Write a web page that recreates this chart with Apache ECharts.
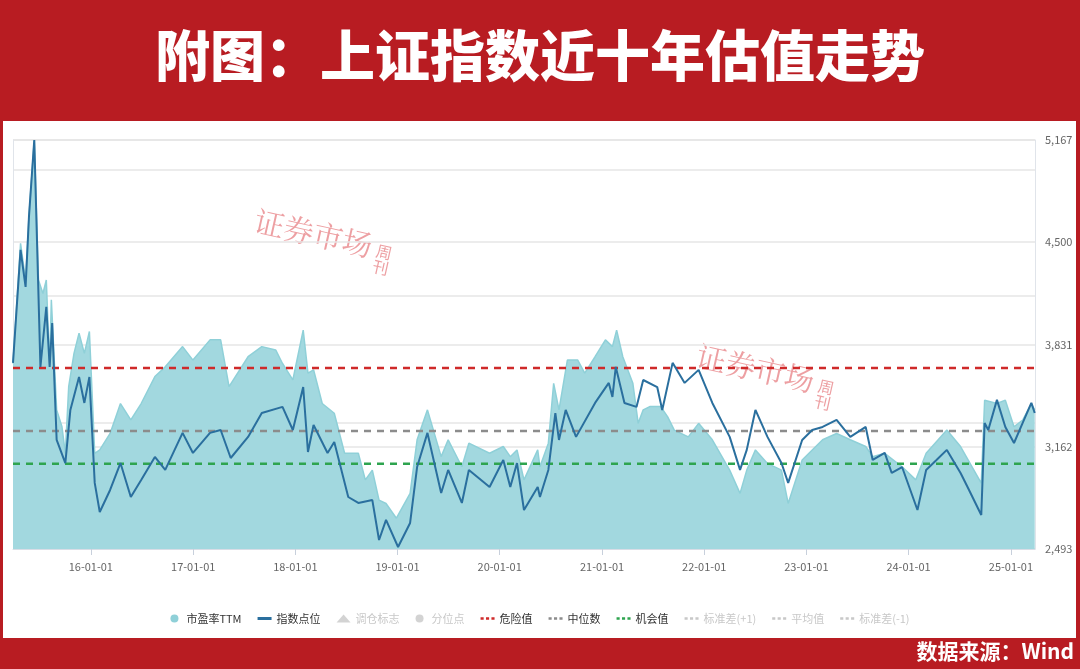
<!DOCTYPE html>
<html><head><meta charset="utf-8">
<script src="https://cdn.jsdelivr.net/npm/echarts@6/dist/echarts.min.js"></script>
<style>html,body{margin:0;padding:0;background:#fff}#c{width:1080px;height:669px}</style>
</head><body><div id="c"></div>
<script>
const titleText = '附图：上证指数近十年估值走势';
const sourceText = '数据来源：Wind';
const yearTicks = ['2016-01-01','2017-01-01','2018-01-01','2019-01-01','2020-01-01','2021-01-01','2022-01-01','2023-01-01','2024-01-01','2025-01-01'];
const indexTicks = [2493, 3162, 3831, 4500, 5167];
const peDates = ['2015-03-29','2015-04-25','2015-05-13','2015-05-25','2015-06-13','2015-06-28','2015-07-14','2015-07-26','2015-08-07','2015-08-13','2015-09-01','2015-09-20','2015-10-02','2015-10-14','2015-11-02','2015-11-20','2015-12-09','2015-12-27','2016-01-15','2016-02-02','2016-03-10','2016-04-16','2016-05-23','2016-06-29','2016-08-17','2016-09-23','2016-11-24','2016-12-31','2017-03-02','2017-04-09','2017-05-09','2017-07-16','2017-09-03','2017-10-23','2017-11-16','2017-12-23','2018-01-29','2018-02-15','2018-03-07','2018-04-07','2018-05-20','2018-06-26','2018-08-14','2018-09-08','2018-10-03','2018-10-27','2018-11-21','2018-12-28','2019-02-15','2019-03-12','2019-04-18','2019-06-06','2019-07-01','2019-08-19','2019-09-13','2019-11-26','2020-01-14','2020-02-08','2020-03-03','2020-03-28','2020-05-16',
'2020-05-24','2020-06-23','2020-07-12','2020-07-31','2020-08-30','2020-10-06','2020-10-31','2020-12-07','2021-01-13','2021-02-07','2021-02-22','2021-03-16','2021-04-21','2021-05-10','2021-05-28','2021-06-22','2021-07-29','2021-08-23','2021-09-16','2021-11-05','2021-12-12','2022-01-30','2022-04-02','2022-05-09','2022-06-02','2022-07-03','2022-08-15','2022-10-04','2022-10-28','2022-12-17','2023-01-22','2023-02-28','2023-04-19','2023-06-07','2023-08-01','2023-08-26','2023-10-08','2023-12-09','2024-01-27','2024-03-04','2024-05-17','2024-07-05','2024-09-17','2024-09-29','2024-11-12','2024-12-12','2025-01-12','2025-02-12','2025-03-15','2025-03-27'];
const peValues = [13.40,16.25,15.38,16.88,18.70,15.38,15.06,15.38,13.32,14.91,12.30,11.90,11.27,12.85,13.64,14.12,13.64,14.16,11.27,11.35,11.74,12.45,12.06,12.45,13.09,13.32,13.80,13.48,13.96,13.96,12.85,13.56,13.80,13.72,13.40,13.01,14.19,13.17,13.25,12.45,12.22,11.27,11.27,10.64,10.87,10.16,10.08,9.73,10.32,11.59,12.30,11.19,11.59,10.95,11.51,11.27,11.43,11.19,11.35,10.64,11.35,
10.95,11.51,12.93,12.30,13.48,13.48,13.17,13.56,13.96,13.80,14.19,13.56,12.93,11.98,12.30,12.38,12.38,12.14,11.82,11.66,11.98,11.59,10.87,10.32,10.87,11.35,11.03,10.87,10.08,11.11,11.35,11.59,11.74,11.59,11.43,11.19,11.27,10.95,10.64,11.27,11.82,11.43,10.56,12.53,12.45,12.53,11.90,12.06,12.45,12.30];
const idxDates = ['2015-03-29','2015-04-25','2015-05-13','2015-05-25','2015-06-13','2015-07-05','2015-07-26','2015-08-07','2015-08-16','2015-09-01','2015-10-02','2015-10-20','2015-11-20','2015-12-09','2015-12-27','2016-01-15','2016-02-02','2016-03-10','2016-04-16','2016-05-23','2016-06-29','2016-08-17','2016-09-23','2016-11-24','2016-12-31','2017-03-02','2017-04-09','2017-05-15','2017-07-16','2017-09-03','2017-11-16','2017-12-23','2018-01-29','2018-02-15','2018-03-07','2018-04-26','2018-05-20','2018-07-09','2018-08-14','2018-10-03','2018-10-27','2018-11-21','2019-01-03','2019-02-15','2019-03-12','2019-04-18','2019-06-06','2019-07-01','2019-08-19','2019-09-13','2019-11-26','2020-01-14','2020-02-08','2020-03-03','2020-03-28','2020-05-16',
'2020-05-24','2020-06-23','2020-07-18','2020-07-31','2020-08-24','2020-09-30','2020-12-07','2021-01-25','2021-02-07','2021-02-19','2021-03-22','2021-05-04','2021-05-28','2021-07-17','2021-08-04','2021-09-10','2021-10-23','2021-12-12','2022-01-30','2022-04-02','2022-05-09','2022-06-02','2022-07-03','2022-08-15','2022-10-04','2022-10-28','2022-12-17','2023-01-22','2023-02-28','2023-04-19','2023-06-07','2023-08-01','2023-08-26','2023-10-08','2023-11-02','2023-12-09','2024-02-02','2024-03-04','2024-04-10','2024-05-17','2024-07-05','2024-07-30','2024-09-17','2024-09-29','2024-10-12','2024-11-12','2024-12-12','2025-01-12','2025-02-12','2025-03-15','2025-03-27'];
const idxValues = [3710,4449,4207,4664,5167,3683,4076,3683,3971,3206,3055,3402,3618,3448,3618,2925,2735,2879,3055,2833,2944,3095,3010,3252,3121,3252,3271,3088,3226,3382,3422,3271,3552,3127,3304,3121,3193,2833,2794,2813,2552,2683,2506,2663,3029,3252,2859,3010,2794,3010,2898,3075,2898,3055,2748,2898,
2833,3010,3382,3206,3402,3226,3448,3579,3487,3683,3448,3422,3598,3552,3402,3710,3579,3664,3448,3226,3010,3141,3402,3226,3055,2925,3206,3271,3291,3337,3226,3291,3075,3121,2990,3029,2748,3010,3075,3141,2990,2898,2715,3317,3271,3468,3291,3186,3317,3448,3382];
const dangerPE = 13.29, medianPE = 11.80, chancePE = 11.02;
const startDate = '2015-03-29', endDate = '2025-03-28';

const ts = d => Date.parse(d + 'T00:00:00Z');
const chart = echarts.init(document.getElementById('c'));
const zip = (a, b) => a.map((d, i) => [ts(d), b[i]]);
const flat = v => [[ts(startDate), v], [ts(endDate), v]];
const dashLine = (name, v, color) => ({name, type:'line', yAxisIndex:0, data:flat(v), symbol:'none', silent:true,
  lineStyle:{color, width:2.5, type:[7,6]}, itemStyle:{color}, z:5});
const emptySeries = (name, type, color) => ({name, type, data:[], itemStyle:{color}, lineStyle:{color, type:'dashed'}});
const font = '"Noto Sans CJK SC", sans-serif';
const yearTs = yearTicks.map(ts);
const dashIcon = 'path://M0,0h4v3h-4z M7,0h4v3h-4z M14,0h4v3h-4z';

chart.setOption({
  animation:false,
  backgroundColor:'#fff',
  graphic:[
    {type:'rect', shape:{x:0,y:0,width:1080,height:669}, style:{fill:'#b81c22'}, z:-10, silent:true},
    {type:'rect', shape:{x:3,y:121,width:1073,height:517}, style:{fill:'#fff'}, z:-9, silent:true},
    {type:'text', left:'center', top:28, style:{text:titleText, fill:'#fff', font:'900 55px "Noto Sans CJK SC"'}, z:10},
    {type:'text', right:6, top:641, style:{text:sourceText, fill:'#fff', font:'bold 21px "Noto Sans CJK SC"'}, z:10},
    {type:'group', x:320, y:250, rotation:-0.22, silent:true, z:20, children:[
      {type:'text', x:-70, y:-30, style:{text:'证券市场', fill:'rgba(225,95,100,0.6)', font:'30px "Noto Serif CJK SC", "Noto Sans CJK SC"'}},
      {type:'text', x:55, y:-20, style:{text:'周\n刊', fill:'rgba(225,95,100,0.6)', font:'16px "Noto Sans CJK SC"', lineHeight:16}}]},
    {type:'group', x:762, y:385, rotation:-0.22, silent:true, z:20, children:[
      {type:'text', x:-70, y:-30, style:{text:'证券市场', fill:'rgba(225,95,100,0.6)', font:'30px "Noto Serif CJK SC", "Noto Sans CJK SC"'}},
      {type:'text', x:55, y:-20, style:{text:'周\n刊', fill:'rgba(225,95,100,0.6)', font:'16px "Noto Sans CJK SC"', lineHeight:16}}]}
  ],
  grid:{left:13, right:45, top:140, bottom:120, containLabel:false},
  legend:{bottom:40, left:'center', itemGap:16, itemWidth:14, itemHeight:8,
    textStyle:{fontSize:11, color:'#333', fontFamily:font}, inactiveColor:'#c8c8c8',
    data:[
      {name:'市盈率TTM', icon:'circle', itemStyle:{color:'#8fd0d8'}},
      {name:'指数点位', icon:'path://M0,0h14v3h-14z'},
      {name:'调仓标志', icon:'triangle'},
      {name:'分位点', icon:'circle'},
      {name:'危险值', icon:dashIcon},{name:'中位数', icon:dashIcon},{name:'机会值', icon:dashIcon},
      {name:'标准差(+1)', icon:dashIcon},{name:'平均值', icon:dashIcon},{name:'标准差(-1)', icon:dashIcon}],
    selected:{'调仓标志':false,'分位点':false,'标准差(+1)':false,'平均值':false,'标准差(-1)':false}},
  xAxis:{type:'value', min:ts(startDate), max:ts(endDate),
    axisLine:{show:true, lineStyle:{color:'#d8dde6'}},
    axisTick:{show:true, customValues:yearTs, lineStyle:{color:'#c8d0dc'}, length:6},
    splitLine:{show:false},
    axisLabel:{customValues:yearTs, color:'#666', fontSize:11, fontFamily:font, margin:12,
      formatter:v=>{const d=new Date(v);return String(d.getUTCFullYear()).slice(2)+'-01-01';}}},
  yAxis:[
    {type:'value', min:9, max:18.7, interval:3, position:'left', axisLabel:{show:false}, axisLine:{show:true, lineStyle:{color:'#e0e4ea'}}, axisTick:{show:false},
      splitLine:{lineStyle:{color:'#e6e6e6', width:1.5}}},
    {type:'value', min:2493, max:5167, interval:669, position:'right', axisLine:{show:true, lineStyle:{color:'#e0e4ea'}}, axisTick:{show:false},
      splitLine:{lineStyle:{color:'#e6e6e6', width:1.5}},
      axisLabel:{customValues:indexTicks, color:'#666', fontSize:11, fontFamily:font, margin:10,
        formatter:v=>Number(v).toLocaleString('en-US')}}
  ],
  series:[
    {name:'市盈率TTM', type:'line', yAxisIndex:0, data:zip(peDates, peValues), symbol:'none',
      lineStyle:{color:'#8fd0d8', width:1.5}, itemStyle:{color:'#8fd0d8'}, areaStyle:{color:'#a2d8df', opacity:1}, z:1},
    {name:'指数点位', type:'line', yAxisIndex:1, data:zip(idxDates, idxValues), symbol:'none',
      lineStyle:{color:'#2a6f9e', width:2}, itemStyle:{color:'#2a6f9e'}, z:6},
    emptySeries('调仓标志','scatter','#999'),
    emptySeries('分位点','scatter','#999'),
    dashLine('危险值', dangerPE, '#cf2a2a'),
    dashLine('中位数', medianPE, '#8c8c8c'),
    dashLine('机会值', chancePE, '#2ea44f'),
    emptySeries('标准差(+1)','line','#bbb'),
    emptySeries('平均值','line','#bbb'),
    emptySeries('标准差(-1)','line','#bbb')
  ]
});
</script></body></html>
